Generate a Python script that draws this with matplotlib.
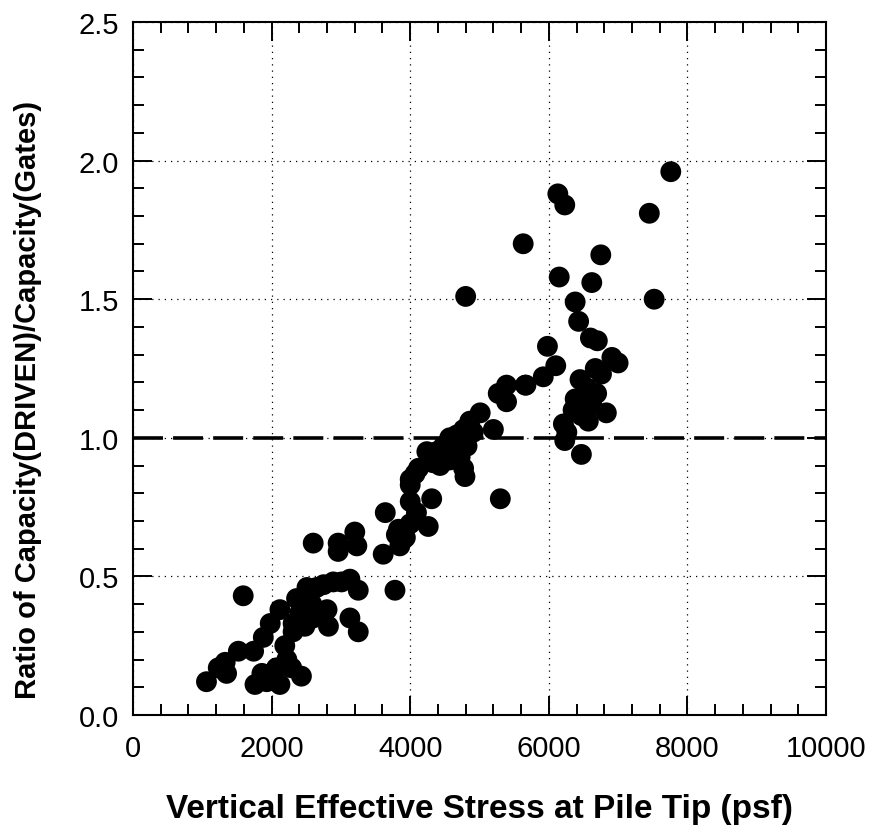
import matplotlib
matplotlib.use("Agg")
from matplotlib import pyplot as plt
from matplotlib.ticker import MultipleLocator, FormatStrFormatter

plt.rcParams['font.family'] = ['Liberation Sans', 'DejaVu Sans']

# vertical effective stress at pile tip (psf)
stress = [
    7760, 6130, 6230, 7450, 5630, 6750, 6150, 6620, 7520, 6380,
    6430, 6600, 6700, 5980, 6910, 7000, 6100, 5920, 5670,
    6670, 6760, 6450, 6550, 6690, 6380, 6620, 6350, 6470, 6830,
    6570, 6210, 6260, 6230, 6470,
    5390, 5660, 5270, 5390, 5010, 5200, 4860, 4770, 4670, 4570,
    4480, 4380, 4330, 4910, 4820, 4720, 4570, 4430, 4770, 4790,
    4120, 4070, 4000, 4000, 4330, 4240, 4500, 5300, 4310, 4000,
    3640, 4090, 4000, 4260, 3830, 3930, 3800, 3850, 3200, 3230,
    2960, 3610, 2960, 4800,
    2600, 3780, 1590, 3130, 3010, 2890, 2750, 2650, 2510, 3250,
    2360, 2580, 2800, 2120, 2410, 2700, 1980, 2600, 2310, 2480,
    2820, 3130, 3250, 1880, 2310, 2190, 1520, 1740, 1330, 1230,
    1350, 2220, 2290, 1860, 2430, 1060, 1760, 1930, 2120, 2070,
    4620, 4700, 4540, 4660,
]
# ratio of capacity (driven) / capacity (Gates)
ratio = [
    1.96, 1.88, 1.84, 1.81, 1.70, 1.66, 1.58, 1.56, 1.50, 1.49,
    1.42, 1.36, 1.35, 1.33, 1.29, 1.27, 1.26, 1.22, 1.19,
    1.25, 1.23, 1.21, 1.18, 1.16, 1.14, 1.12, 1.10, 1.08, 1.09,
    1.06, 1.05, 1.02, 0.99, 0.94,
    1.19, 1.19, 1.16, 1.13, 1.09, 1.03, 1.06, 1.03, 1.01, 1.00,
    0.97, 0.95, 0.93, 1.02, 0.97, 0.93, 0.92, 0.90, 0.89, 0.86,
    0.89, 0.87, 0.85, 0.83, 0.91, 0.95, 0.93, 0.78, 0.78, 0.77,
    0.73, 0.73, 0.69, 0.68, 0.67, 0.64, 0.65, 0.61, 0.66, 0.61,
    0.62, 0.58, 0.59, 1.51,
    0.62, 0.45, 0.43, 0.49, 0.48, 0.48, 0.47, 0.46, 0.46, 0.45,
    0.42, 0.40, 0.38, 0.38, 0.37, 0.36, 0.33, 0.35, 0.33, 0.32,
    0.32, 0.35, 0.30, 0.28, 0.30, 0.25, 0.23, 0.23, 0.19, 0.17,
    0.15, 0.20, 0.17, 0.15, 0.14, 0.12, 0.11, 0.12, 0.11, 0.17,
    0.99, 1.01, 0.96, 0.98,
]

fig = plt.figure(figsize=(8.78, 8.37), dpi=100)
ax = fig.add_axes([0.1515, 0.1446, 0.7893, 0.8279])

ax.scatter(stress, ratio, s=225, color='black', edgecolors='none', zorder=3)
ax.axhline(1.0, color='black', lw=2.6, dashes=(8.3, 2.8), zorder=2)

ax.set_xlim(0, 10000)
ax.set_ylim(0, 2.5)
ax.xaxis.set_major_locator(MultipleLocator(2000))
ax.xaxis.set_minor_locator(MultipleLocator(400))
ax.yaxis.set_major_locator(MultipleLocator(0.5))
ax.yaxis.set_minor_locator(MultipleLocator(0.1))
ax.yaxis.set_major_formatter(FormatStrFormatter('%.1f'))

ax.grid(True, which='major', color='black', lw=0.9, linestyle=(0, (1, 4)))
ax.tick_params(which='both', direction='in', top=True, right=True,
               width=1.4, labelsize=21)
ax.tick_params(axis='x', pad=14)
ax.tick_params(axis='y', pad=10)
ax.tick_params(which='major', length=14)
ax.tick_params(which='minor', length=8)
for sp in ax.spines.values():
    sp.set_linewidth(1.5)

ax.set_xlabel('Vertical Effective Stress at Pile Tip (psf)',
              fontsize=24, fontweight='bold')
ax.set_ylabel('Ratio of Capacity(DRIVEN)/Capacity(Gates)',
              fontsize=21, fontweight='bold')
ax.xaxis.set_label_coords(0.5, -0.112)
ax.yaxis.set_label_coords(-0.131, 0.456)

fig.savefig('out.png', dpi=100)
